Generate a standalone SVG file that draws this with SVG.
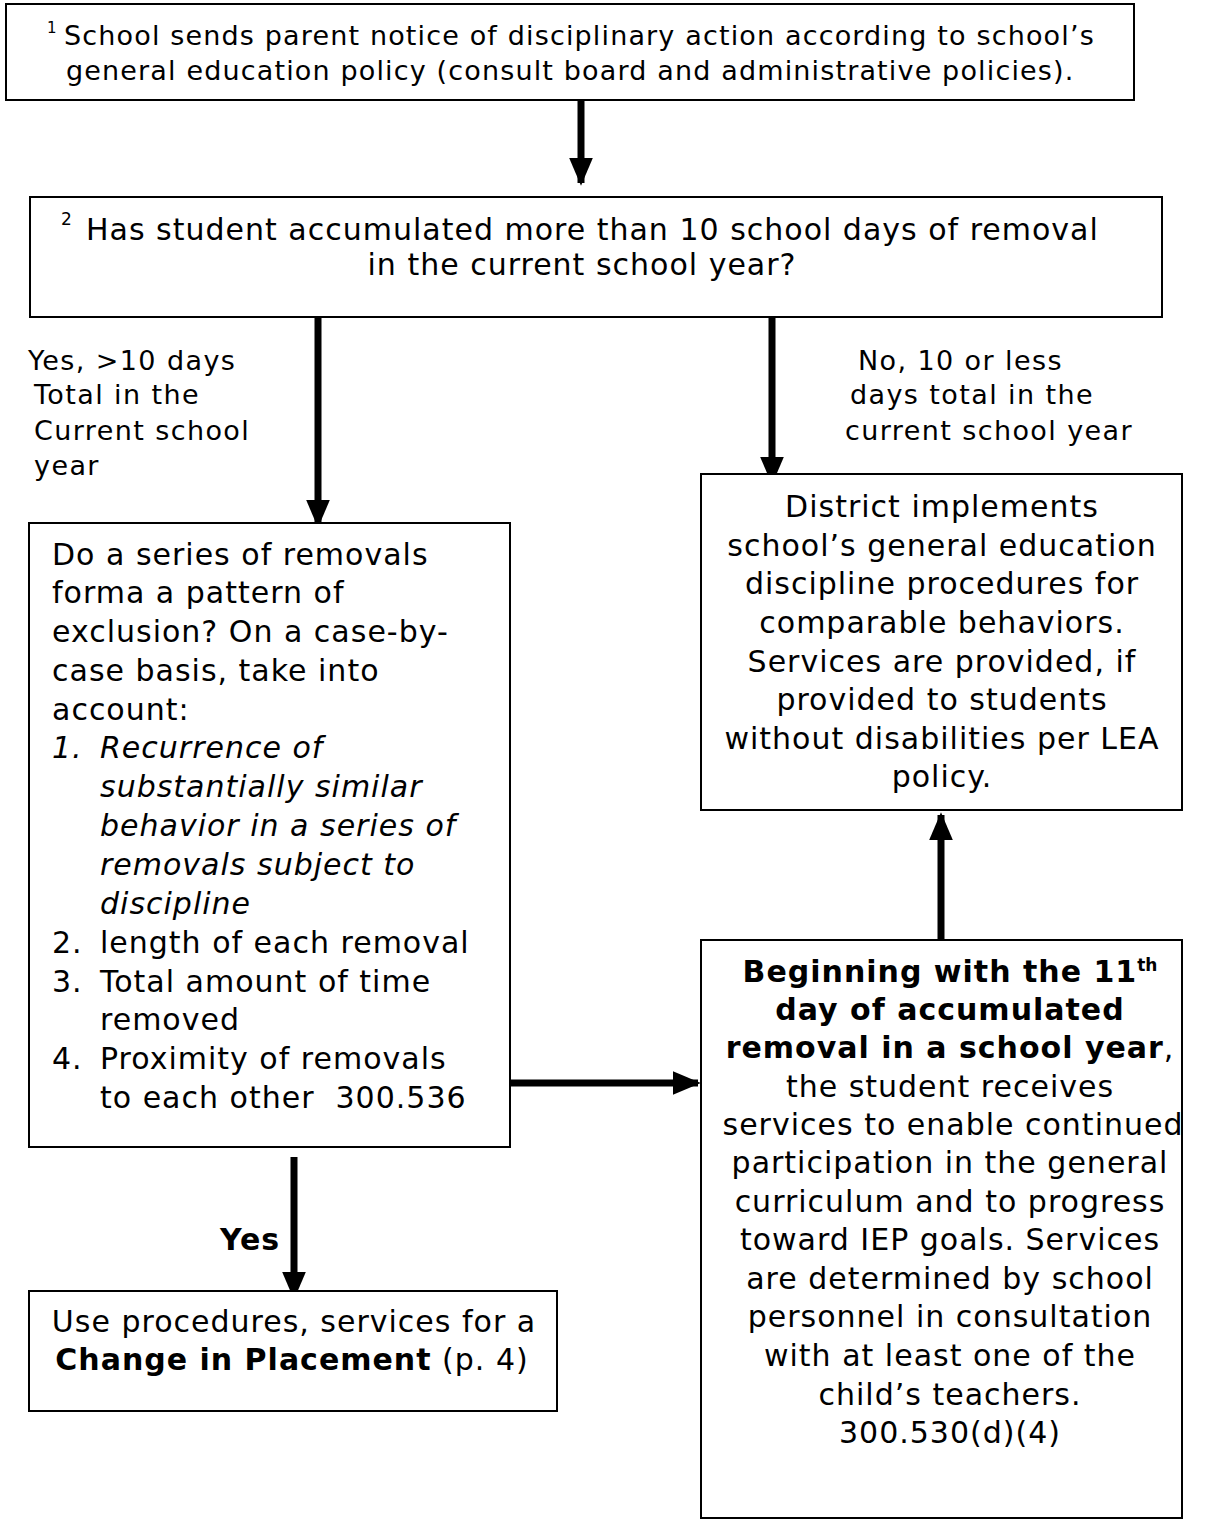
<svg xmlns="http://www.w3.org/2000/svg" width="1208" height="1522" viewBox="0 0 1208 1522">
<style>
.box{fill:#fff;stroke:#000;stroke-width:2}
text{font-family:"DejaVu Sans","Verdana",sans-serif;font-size:30px;letter-spacing:1px;fill:#000}
.t{font-size:27px;letter-spacing:1.15px}
.lbl{font-size:27px;letter-spacing:1.4px}
.c{text-anchor:middle}
.b{font-weight:bold}
.i{font-style:italic}
.sup{font-size:17px;letter-spacing:0}
.conn{stroke:#000;stroke-width:7;fill:none}
</style>
<defs>
<marker id="ah" markerWidth="4" markerHeight="4" refX="3.6" refY="2" orient="auto" markerUnits="strokeWidth"><path d="M0,0.3 L4,2 L0,3.7 Z" fill="#000"/></marker>
</defs>
<rect width="1208" height="1522" fill="#fff"/>
<g id="connectors">
<line class="conn" x1="581" y1="92" x2="581" y2="183" marker-end="url(#ah)"/>
<line class="conn" x1="318" y1="317" x2="318" y2="525" marker-end="url(#ah)"/>
<line class="conn" x1="772" y1="317" x2="772" y2="482" marker-end="url(#ah)"/>
<line class="conn" x1="941" y1="940" x2="941" y2="815" marker-end="url(#ah)"/>
<line class="conn" x1="510" y1="1083" x2="698" y2="1083" marker-end="url(#ah)"/>
<line class="conn" x1="294" y1="1157" x2="294" y2="1297" marker-end="url(#ah)"/>
<text class="lbl" x="28" y="370">Yes, &gt;10 days</text>
<text class="lbl" x="34" y="404">Total in the</text>
<text class="lbl" x="34" y="440">Current school</text>
<text class="lbl" x="34" y="475">year</text>
<text class="lbl" x="858" y="370">No, 10 or less</text>
<text class="lbl" x="850" y="404">days total in the</text>
<text class="lbl" x="845" y="440">current school year</text>
<text class="b" x="220" y="1250">Yes</text>
</g>
<g id="n1">
<rect class="box" x="6" y="4" width="1128" height="96"/>
<text class="sup" x="47" y="33" style="font-size:15px">1</text>
<text class="t" x="64" y="45">School sends parent notice of disciplinary action according to school’s</text>
<text class="t" x="66" y="80">general education policy (consult board and administrative policies).</text>
</g>
<g id="n2">
<rect class="box" x="30" y="197" width="1132" height="120"/>
<text class="sup" x="61" y="225">2</text>
<text x="86" y="240">Has student accumulated more than 10 school days of removal</text>
<text class="c" x="582" y="275">in the current school year?</text>
</g>
<g id="n3">
<rect class="box" x="29" y="523" width="481" height="624"/>
<text x="52" y="565">Do a series of removals</text>
<text x="52" y="603">forma a pattern of</text>
<text x="52" y="642">exclusion? On a case-by-</text>
<text x="52" y="681">case basis, take into</text>
<text x="52" y="720">account:</text>
<text class="i" x="52" y="758">1.</text>
<text class="i" x="100" y="758">Recurrence of</text>
<text class="i" x="100" y="797">substantially similar</text>
<text class="i" x="100" y="836">behavior in a series of</text>
<text class="i" x="100" y="875">removals subject to</text>
<text class="i" x="100" y="914">discipline</text>
<text x="52" y="953">2.</text>
<text x="100" y="953">length of each removal</text>
<text x="52" y="992">3.</text>
<text x="100" y="992">Total amount of time</text>
<text x="100" y="1030">removed</text>
<text x="52" y="1069">4.</text>
<text x="100" y="1069">Proximity of removals</text>
<text x="100" y="1108" xml:space="preserve">to each other  300.536</text>
</g>
<g id="n4">
<rect class="box" x="701" y="474" width="481" height="336"/>
<text class="c" x="942" y="517">District implements</text>
<text class="c" x="942" y="556">school’s general education</text>
<text class="c" x="942" y="594">discipline procedures for</text>
<text class="c" x="942" y="633">comparable behaviors.</text>
<text class="c" x="942" y="672">Services are provided, if</text>
<text class="c" x="942" y="710">provided to students</text>
<text class="c" x="942" y="749">without disabilities per LEA</text>
<text class="c" x="942" y="787">policy.</text>
</g>
<g id="n5">
<rect class="box" x="701" y="940" width="481" height="578"/>
<text class="c b" x="950" y="982">Beginning with the 11<tspan class="sup" dy="-11">th</tspan></text>
<text class="c b" x="950" y="1020">day of accumulated</text>
<text class="c" x="950" y="1058"><tspan class="b">removal in a school year</tspan>,</text>
<text class="c" x="950" y="1097">the student receives</text>
<text class="c" x="953" y="1135">services to enable continued</text>
<text class="c" x="950" y="1173">participation in the general</text>
<text class="c" x="950" y="1212">curriculum and to progress</text>
<text class="c" x="950" y="1250">toward IEP goals. Services</text>
<text class="c" x="950" y="1289">are determined by school</text>
<text class="c" x="950" y="1327">personnel in consultation</text>
<text class="c" x="950" y="1366">with at least one of the</text>
<text class="c" x="950" y="1405">child’s teachers.</text>
<text class="c" x="950" y="1443">300.530(d)(4)</text>
</g>
<g id="n6">
<rect class="box" x="29" y="1291" width="528" height="120"/>
<text class="c" x="294" y="1332">Use procedures, services for a</text>
<text class="c" x="292" y="1370"><tspan class="b">Change in Placement</tspan> (p. 4)</text>
</g>
</svg>
